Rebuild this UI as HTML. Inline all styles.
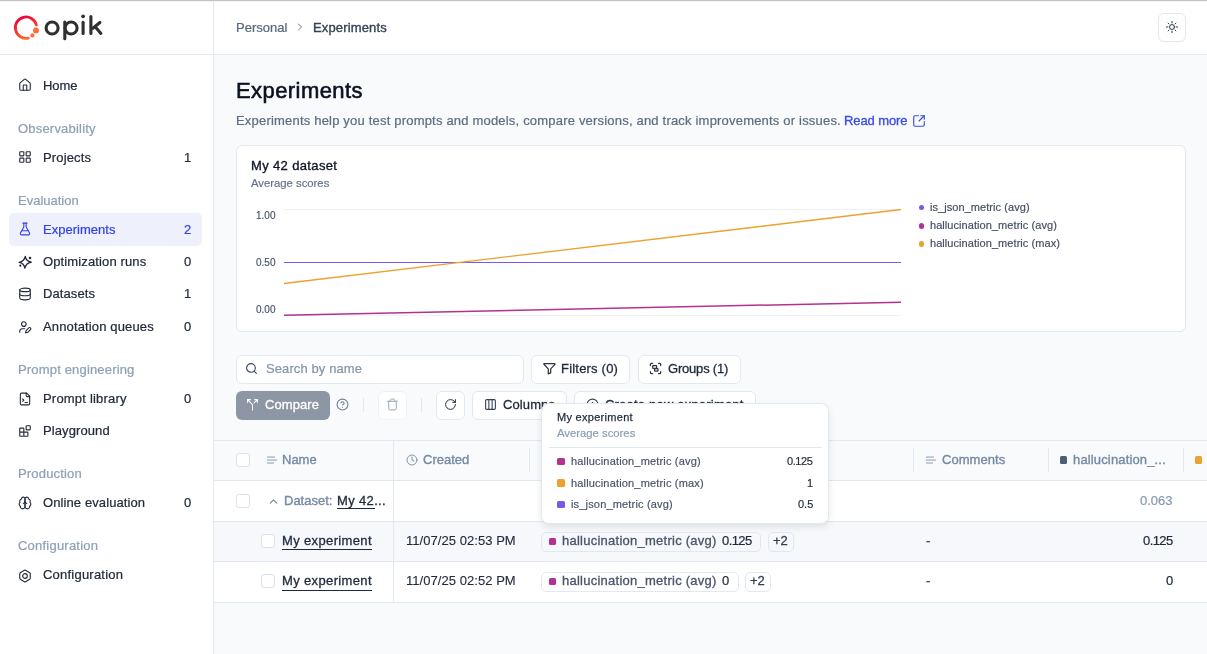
<!DOCTYPE html>
<html><head><meta charset="utf-8"><title>Experiments</title>
<style>
html,body{margin:0;padding:0;}
body{width:1207px;height:654px;overflow:hidden;position:relative;background:#f8fafc;font-family:"Liberation Sans",sans-serif;}
.t{position:absolute;white-space:nowrap;line-height:1;will-change:transform;}
.r{position:absolute;}
.i{position:absolute;overflow:visible;}
</style></head><body>
<div class="r" style="left:0px;top:0px;width:1207px;height:654px;background:#f9fafb;"></div>
<div class="r" style="left:0px;top:0px;width:213px;height:654px;background:#fff;"></div>
<div class="r" style="left:213px;top:0px;width:1px;height:654px;background:#e2e8f0;"></div>
<div class="r" style="left:0px;top:54px;width:213px;height:1px;background:#e2e8f0;"></div>
<div class="r" style="left:214px;top:0px;width:993px;height:54px;background:#fff;"></div>
<div class="r" style="left:214px;top:54px;width:993px;height:1px;background:#e2e8f0;"></div>
<div class="r" style="left:0px;top:0px;width:1207px;height:1px;background:#c1c2c1;"></div>
<div class="r" style="left:0px;top:1px;width:1207px;height:1px;background:#ececec;opacity:.6;"></div>
<svg class="i" style="left:0;top:0;width:120px;height:54px" viewBox="0 0 120 54">
<defs><linearGradient id="lg" x1="0.2" y1="0" x2="0.6" y2="1"><stop offset="0" stop-color="#e6003a"/><stop offset="1" stop-color="#ff6a30"/></linearGradient></defs>
<path d="M36.4 25.0 A10.7 10.7 0 1 0 28.4 38.1" fill="none" stroke="url(#lg)" stroke-width="2.8" stroke-linecap="round"/>
<circle cx="36.0" cy="30.4" r="2.9" fill="#ff6a35"/>
<circle cx="32.4" cy="35.4" r="2.1" fill="#ff6d38"/>
<g fill="none" stroke="#303030" stroke-width="3.1" stroke-linecap="round">
<circle cx="52.1" cy="28.0" r="6.0"/>
<circle cx="71.1" cy="28.0" r="6.0"/>
<path d="M64.8 22.0 V38.8"/>
<path d="M83.1 22.2 V33.4"/>
<path d="M90.9 16.5 V33.4"/>
<path d="M99.9 22.5 L92.9 28.3"/>
<path d="M95.2 26.8 L100.9 33.4"/>
</g>
<circle cx="83.1" cy="16.3" r="1.9" fill="#303030"/>
</svg>
<div class="r" style="left:9px;top:213px;width:193px;height:33px;background:#eef0fb;border-radius:5px;"></div>
<svg class="i" style="left:18px;top:78.0px;width:14px;height:14px;" viewBox="0 0 24 24" fill="none" stroke="#222b3b" stroke-width="1.9" stroke-linecap="round" stroke-linejoin="round"><path d="M15 21v-8a1 1 0 0 0-1-1h-4a1 1 0 0 0-1 1v8"/><path d="M3 10a2 2 0 0 1 .709-1.528l7-5.999a2 2 0 0 1 2.582 0l7 5.999A2 2 0 0 1 21 10v9a2 2 0 0 1-2 2H5a2 2 0 0 1-2-2z"/></svg>
<div class="t" style="left:43.2px;top:79.00px;font-size:13px;color:#222b3b;letter-spacing:-0.1px;-webkit-text-stroke:0.22px #222b3b;">Home</div>
<svg class="i" style="left:18px;top:150.2px;width:14px;height:14px;" viewBox="0 0 24 24" fill="none" stroke="#222b3b" stroke-width="1.9" stroke-linecap="round" stroke-linejoin="round"><rect width="7" height="7" x="3" y="3" rx="1"/><rect width="7" height="7" x="14" y="3" rx="1"/><rect width="7" height="7" x="14" y="14" rx="1"/><rect width="7" height="7" x="3" y="14" rx="1"/></svg>
<div class="t" style="left:43.2px;top:151.00px;font-size:13px;color:#222b3b;letter-spacing:0.15px;-webkit-text-stroke:0.22px #222b3b;">Projects</div>
<div class="t" style="right:1015.5px;top:151.00px;font-size:13px;color:#222b3b;text-align:right;-webkit-text-stroke:0.22px #222b3b;">1</div>
<svg class="i" style="left:18px;top:222.0px;width:14px;height:14px;" viewBox="0 0 24 24" fill="none" stroke="#3442e8" stroke-width="1.9" stroke-linecap="round" stroke-linejoin="round"><path d="M14 2v6a2 2 0 0 0 .245.96l5.51 10.08A2 2 0 0 1 18 22H6a2 2 0 0 1-1.755-2.96l5.51-10.08A2 2 0 0 0 10 8V2"/><path d="M6.453 15h11.094"/><path d="M8.5 2h7"/></svg>
<div class="t" style="left:43.2px;top:223.00px;font-size:13px;color:#3442e8;letter-spacing:0.02px;-webkit-text-stroke:0.22px #3442e8;">Experiments</div>
<div class="t" style="right:1015.5px;top:223.00px;font-size:13px;color:#3442e8;text-align:right;-webkit-text-stroke:0.22px #3442e8;">2</div>
<svg class="i" style="left:17px;top:254px;width:16px;height:16px" viewBox="0 0 16 16" fill="none" stroke="#222b3b" stroke-width="1.35" stroke-linejoin="round" stroke-linecap="round"><path d="M8.3 2.4 Q8.9 7.3 14.3 8.1 Q9.1 9 7.8 14.1 Q7.2 9.1 2.1 8.3 Q7.4 7.4 8.3 2.4 Z"/><circle cx="13" cy="4" r="1.3" fill="#222b3b" stroke="none"/><circle cx="3.3" cy="11.7" r="1.1" fill="#222b3b" stroke="none"/></svg>
<div class="t" style="left:43.2px;top:254.70px;font-size:13px;color:#222b3b;letter-spacing:0.13px;-webkit-text-stroke:0.22px #222b3b;">Optimization runs</div>
<div class="t" style="right:1015.5px;top:254.70px;font-size:13px;color:#222b3b;text-align:right;-webkit-text-stroke:0.22px #222b3b;">0</div>
<svg class="i" style="left:18px;top:286.5px;width:14px;height:14px;" viewBox="0 0 24 24" fill="none" stroke="#222b3b" stroke-width="1.9" stroke-linecap="round" stroke-linejoin="round"><ellipse cx="12" cy="5" rx="9" ry="3"/><path d="M3 5V19A9 3 0 0 0 21 19V5"/><path d="M3 12A9 3 0 0 0 21 12"/></svg>
<div class="t" style="left:43.2px;top:286.70px;font-size:13px;color:#222b3b;letter-spacing:0.1px;-webkit-text-stroke:0.22px #222b3b;">Datasets</div>
<div class="t" style="right:1015.5px;top:286.70px;font-size:13px;color:#222b3b;text-align:right;-webkit-text-stroke:0.22px #222b3b;">1</div>
<svg class="i" style="left:18px;top:320.0px;width:14px;height:14px;" viewBox="0 0 24 24" fill="none" stroke="#222b3b" stroke-width="1.9" stroke-linecap="round" stroke-linejoin="round"><path d="M11.5 15H7a4 4 0 0 0-4 4v2"/><path d="M21.378 16.626a1 1 0 0 0-3.004-3.004l-4.01 4.012a2 2 0 0 0-.506.854l-.837 2.87a.5.5 0 0 0 .62.62l2.87-.837a2 2 0 0 0 .854-.506z"/><circle cx="10" cy="7" r="4"/></svg>
<div class="t" style="left:43.2px;top:319.50px;font-size:13px;color:#222b3b;letter-spacing:0.14px;-webkit-text-stroke:0.22px #222b3b;">Annotation queues</div>
<div class="t" style="right:1015.5px;top:319.50px;font-size:13px;color:#222b3b;text-align:right;-webkit-text-stroke:0.22px #222b3b;">0</div>
<svg class="i" style="left:18px;top:391.5px;width:14px;height:14px;" viewBox="0 0 24 24" fill="none" stroke="#222b3b" stroke-width="1.9" stroke-linecap="round" stroke-linejoin="round"><path d="M15 2H6a2 2 0 0 0-2 2v16a2 2 0 0 0 2 2h12a2 2 0 0 0 2-2V7Z"/><path d="M14 2v4a2 2 0 0 0 2 2h4"/><path d="m8 16 2-2-2-2"/><path d="M12 18h4"/></svg>
<div class="t" style="left:43.2px;top:391.70px;font-size:13px;color:#222b3b;letter-spacing:0.2px;-webkit-text-stroke:0.22px #222b3b;">Prompt library</div>
<div class="t" style="right:1015.5px;top:391.70px;font-size:13px;color:#222b3b;text-align:right;-webkit-text-stroke:0.22px #222b3b;">0</div>
<svg class="i" style="left:18px;top:424.3px;width:14px;height:14px;" viewBox="0 0 24 24" fill="none" stroke="#222b3b" stroke-width="1.9" stroke-linecap="round" stroke-linejoin="round"><rect width="7" height="7" x="14" y="3" rx="1"/><path d="M10 21V8a1 1 0 0 0-1-1H4a1 1 0 0 0-1 1v12a1 1 0 0 0 1 1h12a1 1 0 0 0 1-1v-5a1 1 0 0 0-1-1H3"/></svg>
<div class="t" style="left:43.2px;top:423.50px;font-size:13px;color:#222b3b;letter-spacing:0.1px;-webkit-text-stroke:0.22px #222b3b;">Playground</div>
<svg class="i" style="left:18px;top:496.4px;width:14px;height:14px;" viewBox="0 0 24 24" fill="none" stroke="#222b3b" stroke-width="1.9" stroke-linecap="round" stroke-linejoin="round"><path d="M12 5a3 3 0 1 0-5.997.125 4 4 0 0 0-2.526 5.77 4 4 0 0 0 .556 6.588A4 4 0 1 0 12 18Z"/><path d="M12 5a3 3 0 1 1 5.997.125 4 4 0 0 1 2.526 5.77 4 4 0 0 1-.556 6.588A4 4 0 1 1 12 18Z"/><path d="M15 13a4.5 4.5 0 0 1-3-4 4.5 4.5 0 0 1-3 4"/></svg>
<div class="t" style="left:43.2px;top:495.70px;font-size:13px;color:#222b3b;letter-spacing:0.1px;-webkit-text-stroke:0.22px #222b3b;">Online evaluation</div>
<div class="t" style="right:1015.5px;top:495.70px;font-size:13px;color:#222b3b;text-align:right;-webkit-text-stroke:0.22px #222b3b;">0</div>
<svg class="i" style="left:18px;top:568.9px;width:14px;height:14px;" viewBox="0 0 24 24" fill="none" stroke="#222b3b" stroke-width="1.9" stroke-linecap="round" stroke-linejoin="round"><path d="M21 16V8a2 2 0 0 0-1-1.73l-7-4a2 2 0 0 0-2 0l-7 4A2 2 0 0 0 3 8v8a2 2 0 0 0 1 1.73l7 4a2 2 0 0 0 2 0l7-4A2 2 0 0 0 21 16z"/><circle cx="12" cy="12" r="4"/></svg>
<div class="t" style="left:43.2px;top:567.90px;font-size:13px;color:#222b3b;letter-spacing:0.22px;-webkit-text-stroke:0.22px #222b3b;">Configuration</div>
<div class="t" style="left:18px;top:121.60px;font-size:13px;color:#8ea0b6;letter-spacing:0.2px;-webkit-text-stroke:0.22px #8ea0b6;">Observability</div>
<div class="t" style="left:18px;top:193.90px;font-size:13px;color:#8ea0b6;-webkit-text-stroke:0.22px #8ea0b6;">Evaluation</div>
<div class="t" style="left:18px;top:362.90px;font-size:13px;color:#8ea0b6;letter-spacing:0.17px;-webkit-text-stroke:0.22px #8ea0b6;">Prompt engineering</div>
<div class="t" style="left:18px;top:466.90px;font-size:13px;color:#8ea0b6;letter-spacing:0.17px;-webkit-text-stroke:0.22px #8ea0b6;">Production</div>
<div class="t" style="left:18px;top:538.90px;font-size:13px;color:#8ea0b6;letter-spacing:0.22px;-webkit-text-stroke:0.22px #8ea0b6;">Configuration</div>
<div class="t" style="left:236px;top:20.90px;font-size:13px;color:#58687e;-webkit-text-stroke:0.22px #58687e;">Personal</div>
<svg class="i" style="left:294px;top:21px;width:12px;height:12px;" viewBox="0 0 24 24" fill="none" stroke="#6b7a8f" stroke-width="2" stroke-linecap="round" stroke-linejoin="round"><path d="m9 18 6-6-6-6"/></svg>
<div class="t" style="left:313px;top:20.90px;font-size:13px;color:#334155;letter-spacing:0.15px;-webkit-text-stroke:0.35px #334155;">Experiments</div>
<div class="r" style="left:1158px;top:13px;width:28px;height:29px;border:1px solid #e2e8f0;border-radius:6px;box-sizing:border-box;background:#fff;"></div>
<svg class="i" style="left:1165px;top:20.3px;width:14px;height:14px;" viewBox="0 0 24 24" fill="none" stroke="#2b3547" stroke-width="1.7" stroke-linecap="round" stroke-linejoin="round"><circle cx="12" cy="12" r="4.2"/><path d="M12 2.5v2.5"/><path d="M12 19v2.5"/><path d="m5.3 5.3 1.6 1.6"/><path d="m17.1 17.1 1.6 1.6"/><path d="M2.5 12h2.5"/><path d="M19 12h2.5"/><path d="m6.9 17.1-1.6 1.6"/><path d="m18.7 5.3-1.6 1.6"/></svg>
<div class="t" style="left:236px;top:80.28px;font-size:22px;color:#0b1120;letter-spacing:0.43px;-webkit-text-stroke:0.6px #0b1120;">Experiments</div>
<div class="t" style="left:236px;top:113.90px;font-size:13px;color:#5d6d83;letter-spacing:0.195px;-webkit-text-stroke:0.22px #5d6d83;">Experiments help you test prompts and models, compare versions, and track improvements or issues.</div>
<div class="t" style="left:843.8px;top:113.90px;font-size:13px;color:#3b4ee6;letter-spacing:-0.1px;-webkit-text-stroke:0.35px #3b4ee6;">Read more</div>
<svg class="i" style="left:912px;top:114px;width:14px;height:14px;" viewBox="0 0 24 24" fill="none" stroke="#3b4ee6" stroke-width="2" stroke-linecap="round" stroke-linejoin="round"><path d="M21 13v6a2 2 0 0 1-2 2H5a2 2 0 0 1-2-2V5a2 2 0 0 1 2-2h6"/><path d="m21 3-9 9"/><path d="M15 3h6v6"/></svg>
<div class="r" style="left:236px;top:145px;width:950px;height:187px;border:1px solid #e2e8f0;border-radius:6px;box-sizing:border-box;background:#fff;"></div>
<div class="t" style="left:251px;top:159.00px;font-size:13px;color:#0f172a;letter-spacing:0.36px;-webkit-text-stroke:0.35px #0f172a;">My 42 dataset</div>
<div class="t" style="left:251px;top:177.63px;font-size:11.3px;color:#64748b;-webkit-text-stroke:0.191px #64748b;">Average scores</div>
<div class="t" style="right:931.4px;top:211.34px;font-size:10px;color:#475569;text-align:right;-webkit-text-stroke:0.169px #475569;">1.00</div>
<div class="t" style="right:931.4px;top:258.24px;font-size:10px;color:#475569;text-align:right;-webkit-text-stroke:0.169px #475569;">0.50</div>
<div class="t" style="right:931.4px;top:304.94px;font-size:10px;color:#475569;text-align:right;-webkit-text-stroke:0.169px #475569;">0.00</div>
<svg class="i" style="left:0;top:0;width:1207px;height:654px" viewBox="0 0 1207 654">
<line x1="284" y1="209.5" x2="901" y2="209.5" stroke="#eef2f6" stroke-width="1"/>
<line x1="284" y1="315.5" x2="901" y2="315.5" stroke="#eef2f6" stroke-width="1"/>
<line x1="284" y1="262.5" x2="901" y2="262.5" stroke="#7658ee" stroke-width="1.2"/>
<line x1="284" y1="283.5" x2="901" y2="209.5" stroke="#eba22f" stroke-width="1.4"/>
<line x1="284" y1="315.3" x2="901" y2="302.2" stroke="#b5318f" stroke-width="1.5"/>
</svg>
<div class="r" style="left:918.5px;top:205.10000000000002px;width:5.4px;height:5.4px;background:#7658ee;border-radius:50%;"></div>
<div class="t" style="left:930px;top:201.69px;font-size:11px;color:#434e60;letter-spacing:0.06px;-webkit-text-stroke:0.186px #434e60;">is_json_metric (avg)</div>
<div class="r" style="left:918.5px;top:223.3px;width:5.4px;height:5.4px;background:#b5318f;border-radius:50%;"></div>
<div class="t" style="left:930px;top:219.89px;font-size:11px;color:#434e60;letter-spacing:0.06px;-webkit-text-stroke:0.186px #434e60;">hallucination_metric (avg)</div>
<div class="r" style="left:918.5px;top:241.20000000000002px;width:5.4px;height:5.4px;background:#eba22f;border-radius:50%;"></div>
<div class="t" style="left:930px;top:237.79px;font-size:11px;color:#434e60;letter-spacing:0.06px;-webkit-text-stroke:0.186px #434e60;">hallucination_metric (max)</div>
<div class="r" style="left:236px;top:355px;width:288px;height:29px;border:1px solid #e2e8f0;border-radius:6px;box-sizing:border-box;background:#fff;"></div>
<svg class="i" style="left:244.8px;top:361.8px;width:13px;height:13px;" viewBox="0 0 24 24" fill="none" stroke="#3a4a63" stroke-width="2.1" stroke-linecap="round" stroke-linejoin="round"><circle cx="11" cy="11" r="8"/><path d="m21 21-4.3-4.3"/></svg>
<div class="t" style="left:266px;top:361.90px;font-size:13px;color:#8495ab;letter-spacing:0.1px;-webkit-text-stroke:0.22px #8495ab;">Search by name</div>
<div class="r" style="left:531px;top:355px;width:99px;height:29px;border:1px solid #e2e8f0;border-radius:6px;box-sizing:border-box;background:#fff;"></div>
<svg class="i" style="left:542px;top:361px;width:14px;height:14px" viewBox="0 0 14 14" fill="none" stroke="#2b3547" stroke-width="1.25" stroke-linecap="round" stroke-linejoin="round"><path d="M2.2 2.6H12.6a.4.4 0 0 1 .3.7L8.7 7.9V11.9L6.3 12.9V7.9L1.9 3.3a.4.4 0 0 1 .3-.7Z"/></svg>
<div class="t" style="left:560.7px;top:361.90px;font-size:13px;color:#1e293b;letter-spacing:0.2px;-webkit-text-stroke:0.3px #1e293b;">Filters (0)</div>
<div class="r" style="left:638px;top:355px;width:103px;height:29px;border:1px solid #e2e8f0;border-radius:6px;box-sizing:border-box;background:#fff;"></div>
<svg class="i" style="left:649px;top:362px;width:14px;height:14px" viewBox="0 0 14 14" fill="none" stroke="#2b3547" stroke-width="1.25" stroke-linecap="round" stroke-linejoin="round"><path d="M1.4 3.6V2.4a1 1 0 0 1 1-1H3.6"/><path d="M9.6 1.4h1.1a1 1 0 0 1 1 1V3.6"/><path d="M11.7 9.6v1.1a1 1 0 0 1-1 1H9.6"/><path d="M3.6 11.7H2.4a1 1 0 0 1-1-1V9.6"/><rect x="3.7" y="3.5" width="3.9" height="2.8" rx=".6"/><rect x="5.6" y="6.5" width="3.4" height="2.7" rx=".6"/></svg>
<div class="t" style="left:667.8px;top:361.90px;font-size:13px;color:#1e293b;letter-spacing:-0.2px;-webkit-text-stroke:0.3px #1e293b;">Groups (1)</div>
<div class="r" style="left:236px;top:391px;width:94px;height:29px;background:#8d96a5;border-radius:6px;"></div>
<svg class="i" style="left:246px;top:398px;width:13px;height:13px;" viewBox="0 0 24 24" fill="none" stroke="#fff" stroke-width="2" stroke-linecap="round" stroke-linejoin="round"><path d="M16 3h5v5"/><path d="M8 3H3v5"/><path d="M12 22v-8.3a4 4 0 0 0-1.172-2.872L3 3"/><path d="m15 9 6-6"/></svg>
<div class="t" style="left:264.8px;top:397.80px;font-size:13px;color:#fff;letter-spacing:0.07px;-webkit-text-stroke:0.3px #fff;">Compare</div>
<svg class="i" style="left:336px;top:398px;width:13px;height:13px;" viewBox="0 0 24 24" fill="none" stroke="#6f819b" stroke-width="2" stroke-linecap="round" stroke-linejoin="round"><circle cx="12" cy="12" r="10"/><path d="M9.09 9a3 3 0 0 1 5.83 1c0 2-3 3-3 3"/><path d="M12 17h.01"/></svg>
<div class="r" style="left:363px;top:398px;width:1px;height:14px;background:#e2e8f0;"></div>
<div class="r" style="left:378px;top:391px;width:29px;height:29px;border:1px solid #eef2f6;border-radius:6px;box-sizing:border-box;background:#fff;"></div>
<svg class="i" style="left:386px;top:398px;width:13px;height:13px;" viewBox="0 0 24 24" fill="none" stroke="#97a3b5" stroke-width="1.8" stroke-linecap="round" stroke-linejoin="round"><path d="M3 6h18"/><path d="M19 6v14c0 1-1 2-2 2H7c-1 0-2-1-2-2V6"/><path d="M8 6V4c0-1 1-2 2-2h4c1 0 2 1 2 2v2"/></svg>
<div class="r" style="left:421px;top:398px;width:1px;height:14px;background:#e2e8f0;"></div>
<div class="r" style="left:436px;top:391px;width:29px;height:29px;border:1px solid #e2e8f0;border-radius:6px;box-sizing:border-box;background:#fff;"></div>
<svg class="i" style="left:443.5px;top:398px;width:13px;height:13px;" viewBox="0 0 24 24" fill="none" stroke="#1e293b" stroke-width="1.8" stroke-linecap="round" stroke-linejoin="round"><path d="M21 12a9 9 0 1 1-9-9c2.52 0 4.93 1 6.74 2.74L21 8"/><path d="M21 3v5h-5"/></svg>
<div class="r" style="left:472px;top:391px;width:95px;height:29px;border:1px solid #e2e8f0;border-radius:6px;box-sizing:border-box;background:#fff;"></div>
<svg class="i" style="left:484px;top:398px;width:13px;height:13px;" viewBox="0 0 24 24" fill="none" stroke="#334155" stroke-width="2" stroke-linecap="round" stroke-linejoin="round"><rect width="18" height="18" x="3" y="3" rx="2"/><path d="M9 3v18"/><path d="M15 3v18"/></svg>
<div class="t" style="left:502.6px;top:397.60px;font-size:13px;color:#1e293b;letter-spacing:0.1px;-webkit-text-stroke:0.3px #1e293b;">Columns</div>
<div class="r" style="left:574px;top:391px;width:182px;height:29px;border:1px solid #e2e8f0;border-radius:6px;box-sizing:border-box;background:#fff;"></div>
<svg class="i" style="left:586px;top:398px;width:13px;height:13px;" viewBox="0 0 24 24" fill="none" stroke="#334155" stroke-width="2" stroke-linecap="round" stroke-linejoin="round"><circle cx="12" cy="12" r="10"/><path d="M8 12h8"/><path d="M12 8v8"/></svg>
<div class="t" style="left:604.7px;top:397.80px;font-size:13px;color:#1e293b;letter-spacing:0.2px;-webkit-text-stroke:0.3px #1e293b;">Create new experiment</div>
<div class="r" style="left:214px;top:440px;width:993px;height:162px;background:#fff;"></div>
<div class="r" style="left:214px;top:440px;width:993px;height:40px;background:#f8fafc;"></div>
<div class="r" style="left:214px;top:521px;width:993px;height:40.5px;background:#f6f8fb;"></div>
<div class="r" style="left:214px;top:440px;width:993px;height:1px;background:#e2e8f0;"></div>
<div class="r" style="left:214px;top:480px;width:993px;height:1px;background:#e2e8f0;"></div>
<div class="r" style="left:214px;top:521px;width:993px;height:1px;background:#e2e8f0;"></div>
<div class="r" style="left:214px;top:561px;width:993px;height:1px;background:#e2e8f0;"></div>
<div class="r" style="left:214px;top:602px;width:993px;height:1px;background:#e2e8f0;"></div>
<div class="r" style="left:393px;top:440px;width:1px;height:162px;background:#e2e8f0;"></div>
<div class="r" style="left:529px;top:448px;width:1px;height:24px;background:#e2e8f0;"></div>
<div class="r" style="left:913px;top:448px;width:1px;height:24px;background:#e2e8f0;"></div>
<div class="r" style="left:1048px;top:448px;width:1px;height:24px;background:#e2e8f0;"></div>
<div class="r" style="left:1183px;top:448px;width:1px;height:24px;background:#e2e8f0;"></div>
<div class="r" style="left:236px;top:453px;width:14px;height:14px;border:1px solid #dbe2ea;border-radius:3px;box-sizing:border-box;background:#fff;"></div>
<svg class="i" style="left:266px;top:454px;width:12px;height:12px;" viewBox="0 0 24 24" fill="none" stroke="#7489a3" stroke-width="1.7" stroke-linecap="round" stroke-linejoin="round"><path d="M17 6.1H3"/><path d="M21 12.1H3"/><path d="M15.1 18H3"/></svg>
<div class="t" style="left:281.9px;top:453.00px;font-size:13px;color:#7489a3;-webkit-text-stroke:0.35px #7489a3;">Name</div>
<svg class="i" style="left:406px;top:454px;width:12px;height:12px;" viewBox="0 0 24 24" fill="none" stroke="#7489a3" stroke-width="1.8" stroke-linecap="round" stroke-linejoin="round"><circle cx="12" cy="12" r="10"/><polyline points="12 6 12 12 16 14"/></svg>
<div class="t" style="left:422.5px;top:453.00px;font-size:13px;color:#7489a3;-webkit-text-stroke:0.35px #7489a3;">Created</div>
<svg class="i" style="left:925px;top:454px;width:12px;height:12px;" viewBox="0 0 24 24" fill="none" stroke="#7489a3" stroke-width="1.7" stroke-linecap="round" stroke-linejoin="round"><path d="M17 6.1H3"/><path d="M21 12.1H3"/><path d="M15.1 18H3"/></svg>
<div class="t" style="left:941.8px;top:453.00px;font-size:13px;color:#7489a3;letter-spacing:0.05px;-webkit-text-stroke:0.35px #7489a3;">Comments</div>
<div class="r" style="left:1059.7px;top:456.3px;width:7.4px;height:7.4px;background:#4f5d75;border-radius:1.5px;"></div>
<div class="t" style="left:1072.9px;top:453.00px;font-size:13px;color:#7489a3;letter-spacing:0.15px;-webkit-text-stroke:0.35px #7489a3;">hallucination_...</div>
<div class="r" style="left:1195px;top:456.3px;width:7.4px;height:7.4px;background:#eba22f;border-radius:1.5px;"></div>
<div class="r" style="left:236px;top:494px;width:14px;height:14px;border:1px solid #dbe2ea;border-radius:3px;box-sizing:border-box;background:#fff;"></div>
<svg class="i" style="left:266.8px;top:494.8px;width:13px;height:13px;" viewBox="0 0 24 24" fill="none" stroke="#7489a3" stroke-width="2.1" stroke-linecap="round" stroke-linejoin="round"><path d="m18 15-6-6-6 6"/></svg>
<div class="t" style="left:283.8px;top:493.60px;font-size:13px;color:#7489a3;-webkit-text-stroke:0.35px #7489a3;">Dataset:</div>
<div class="t" style="left:337.3px;top:493.60px;font-size:13px;color:#1e293b;letter-spacing:0.35px;-webkit-text-stroke:0.3px #1e293b;">My 42...</div>
<div class="r" style="left:337.3px;top:508px;width:38px;height:1.2px;background:#1e293b;"></div>
<div class="t" style="right:34.40000000000009px;top:493.90px;font-size:13px;color:#8a9bb0;text-align:right;-webkit-text-stroke:0.22px #8a9bb0;">0.063</div>
<div class="r" style="left:261px;top:533.9px;width:14px;height:14px;border:1px solid #dbe2ea;border-radius:3px;box-sizing:border-box;background:#fff;"></div>
<div class="t" style="left:282.3px;top:533.90px;font-size:13px;color:#1e293b;letter-spacing:0.36px;-webkit-text-stroke:0.3px #1e293b;">My experiment</div>
<div class="r" style="left:282.3px;top:549.3px;width:90px;height:1.2px;background:#1e293b;"></div>
<div class="t" style="left:405.9px;top:533.90px;font-size:13px;color:#1e293b;letter-spacing:0.05px;-webkit-text-stroke:0.12px #1e293b;">11/07/25 02:53 PM</div>
<div class="r" style="left:541px;top:531.5px;width:220px;height:20px;border:1px solid #e2e8f0;border-radius:5px;box-sizing:border-box;"></div>
<div class="r" style="left:548.9px;top:537.6px;width:7.4px;height:7.4px;background:#b5318f;border-radius:1.5px;"></div>
<div class="t" style="left:561.8px;top:533.90px;font-size:13px;color:#475569;letter-spacing:0.25px;-webkit-text-stroke:0.3px #475569;">hallucination_metric (avg)</div>
<div class="t" style="left:722px;top:533.90px;font-size:13px;color:#1e293b;letter-spacing:-0.6px;-webkit-text-stroke:0.22px #1e293b;">0.125</div>
<div class="r" style="left:767.7px;top:531.5px;width:26px;height:20px;border:1px solid #e2e8f0;border-radius:5px;box-sizing:border-box;"></div>
<div class="t" style="left:772.7px;top:533.90px;font-size:13px;color:#334155;-webkit-text-stroke:0.3px #334155;">+2</div>
<div class="t" style="left:926px;top:533.90px;font-size:13px;color:#334155;-webkit-text-stroke:0.22px #334155;">-</div>
<div class="t" style="right:34.200000000000045px;top:533.90px;font-size:13px;color:#1e293b;text-align:right;letter-spacing:-0.6px;-webkit-text-stroke:0.22px #1e293b;">0.125</div>
<div class="r" style="left:261px;top:574.4px;width:14px;height:14px;border:1px solid #dbe2ea;border-radius:3px;box-sizing:border-box;background:#fff;"></div>
<div class="t" style="left:282.3px;top:574.40px;font-size:13px;color:#1e293b;letter-spacing:0.36px;-webkit-text-stroke:0.3px #1e293b;">My experiment</div>
<div class="r" style="left:282.3px;top:589.8px;width:90px;height:1.2px;background:#1e293b;"></div>
<div class="t" style="left:405.9px;top:574.40px;font-size:13px;color:#1e293b;letter-spacing:0.05px;-webkit-text-stroke:0.12px #1e293b;">11/07/25 02:52 PM</div>
<div class="r" style="left:541px;top:572.0px;width:197.5px;height:20px;border:1px solid #e2e8f0;border-radius:5px;box-sizing:border-box;"></div>
<div class="r" style="left:548.9px;top:578.1px;width:7.4px;height:7.4px;background:#b5318f;border-radius:1.5px;"></div>
<div class="t" style="left:561.8px;top:574.40px;font-size:13px;color:#475569;letter-spacing:0.25px;-webkit-text-stroke:0.3px #475569;">hallucination_metric (avg)</div>
<div class="t" style="left:722px;top:574.40px;font-size:13px;color:#1e293b;-webkit-text-stroke:0.22px #1e293b;">0</div>
<div class="r" style="left:744.6px;top:572.0px;width:26px;height:20px;border:1px solid #e2e8f0;border-radius:5px;box-sizing:border-box;"></div>
<div class="t" style="left:749.6px;top:574.40px;font-size:13px;color:#334155;-webkit-text-stroke:0.3px #334155;">+2</div>
<div class="t" style="left:926px;top:574.40px;font-size:13px;color:#334155;-webkit-text-stroke:0.22px #334155;">-</div>
<div class="t" style="right:33.799999999999955px;top:574.40px;font-size:13px;color:#1e293b;text-align:right;-webkit-text-stroke:0.22px #1e293b;">0</div>
<div class="r" style="left:541px;top:403px;width:288px;height:121px;border:1px solid #e2e8f0;border-radius:8px;box-sizing:border-box;background:#fff;box-shadow:0 3px 7px rgba(15,23,42,.10);"></div>
<div class="t" style="left:557px;top:412.09px;font-size:11px;color:#1e293b;letter-spacing:0.29px;-webkit-text-stroke:0.25px #1e293b;">My experiment</div>
<div class="t" style="left:557px;top:428.03px;font-size:11.3px;color:#8a9cb6;-webkit-text-stroke:0.191px #8a9cb6;">Average scores</div>
<div class="r" style="left:549px;top:447px;width:273px;height:1px;background:#e2e8f0;"></div>
<div class="r" style="left:557px;top:457.59999999999997px;width:8px;height:7.6px;background:#b5318f;border-radius:1.5px;"></div>
<div class="t" style="left:570.6px;top:456.29px;font-size:11px;color:#475569;letter-spacing:0.17px;-webkit-text-stroke:0.186px #475569;">hallucination_metric (avg)</div>
<div class="t" style="right:394.1px;top:456.29px;font-size:11px;color:#1e293b;text-align:right;letter-spacing:-0.4px;-webkit-text-stroke:0.186px #1e293b;">0.125</div>
<div class="r" style="left:557px;top:479.09999999999997px;width:8px;height:7.6px;background:#eba22f;border-radius:1.5px;"></div>
<div class="t" style="left:570.6px;top:477.79px;font-size:11px;color:#475569;letter-spacing:0.17px;-webkit-text-stroke:0.186px #475569;">hallucination_metric (max)</div>
<div class="t" style="right:393.70000000000005px;top:477.79px;font-size:11px;color:#1e293b;text-align:right;-webkit-text-stroke:0.186px #1e293b;">1</div>
<div class="r" style="left:557px;top:500.59999999999997px;width:8px;height:7.6px;background:#7658ee;border-radius:1.5px;"></div>
<div class="t" style="left:570.6px;top:499.29px;font-size:11px;color:#475569;letter-spacing:0.17px;-webkit-text-stroke:0.186px #475569;">is_json_metric (avg)</div>
<div class="t" style="right:393.70000000000005px;top:499.29px;font-size:11px;color:#1e293b;text-align:right;-webkit-text-stroke:0.186px #1e293b;">0.5</div>
</body></html>
